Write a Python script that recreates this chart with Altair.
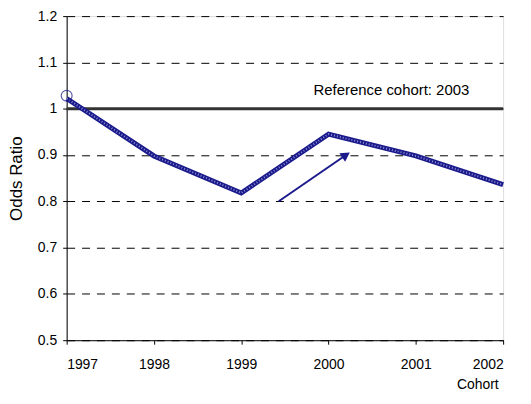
import altair as alt
import pandas as pd

years = [1997, 1998, 1999, 2000, 2001, 2002]
odds = [1.022, 0.898, 0.818, 0.945, 0.898, 0.836]

circle_year = [1997]
circle_val = [1.028]

ref_value = [1.0]
ref_label = ["Reference cohort: 2003"]
ref_label_pos = [(2000.72, 1.041)]

arrow_x = [1999.43, 2000.2]
arrow_y = [0.800, 0.900]

y_ticks = [0.5, 0.6, 0.7, 0.8, 0.9, 1.0, 1.1, 1.2]

df = pd.DataFrame({"year": years, "odds": odds})
circ = pd.DataFrame({"year": circle_year, "odds": circle_val})
ref = pd.DataFrame({"x": [years[0], years[-1]], "y": ref_value * 2})
lab = pd.DataFrame({"x": [ref_label_pos[0][0]], "y": [ref_label_pos[0][1]], "t": ref_label})
arr = pd.DataFrame({"x": arrow_x, "y": arrow_y})
head = pd.DataFrame({"x": [arrow_x[1]], "y": [arrow_y[1]]})

xs = alt.Scale(domain=[1997, 2002], nice=False, zero=False)
ys = alt.Scale(domain=[0.5, 1.2], nice=False, zero=False)

FONT = "Liberation Sans"

xaxis = alt.Axis(values=years, format="d", grid=False, title="Cohort",
                 titleAnchor="end", titleAlign="right", titleBaseline="middle",
                 titleX=434, titleY=45,
                 titleFontWeight="normal", titleFontSize=14, labelFontSize=14,
                 labelPadding=13, tickSize=4, domainColor="black", tickColor="black",
                 labelColor="black", titleColor="black", labelFont=FONT,
                 titleFont=FONT)
yaxis = alt.Axis(values=y_ticks, format="~g", grid=True, gridDash=[8, 7],
                 gridColor="black", gridWidth=1, title="Odds Ratio",
                 titleFontWeight="normal", titleFontSize=17, titlePadding=12,
                 labelFontSize=14, tickSize=4, domainColor="black", tickColor="black",
                 labelColor="black", titleColor="black", labelFont=FONT,
                 titleFont=FONT, labelPadding=6)

base_axes = alt.Chart(df).mark_line(opacity=0).encode(
    x=alt.X("year:Q", scale=xs, axis=xaxis),
    y=alt.Y("odds:Q", scale=ys, axis=yaxis),
)

refline = alt.Chart(ref).mark_line(color="#333333", strokeWidth=3).encode(
    x=alt.X("x:Q", scale=xs), y=alt.Y("y:Q", scale=ys))

line = alt.Chart(df).mark_line(color="#1a1a8c", strokeWidth=5).encode(
    x=alt.X("year:Q", scale=xs), y=alt.Y("odds:Q", scale=ys))
line_tex = alt.Chart(df).mark_line(color="#8f8fd0", strokeWidth=2, strokeDash=[1, 2]).encode(
    x=alt.X("year:Q", scale=xs), y=alt.Y("odds:Q", scale=ys))

circle = alt.Chart(circ).mark_point(shape="circle", filled=False, color="#1a1a8c",
                                    size=120, strokeWidth=1.2).encode(
    x=alt.X("year:Q", scale=xs), y=alt.Y("odds:Q", scale=ys))

text = alt.Chart(lab).mark_text(fontSize=15, font=FONT, color="black").encode(
    x=alt.X("x:Q", scale=xs), y=alt.Y("y:Q", scale=ys), text="t:N")

arrow = alt.Chart(arr).mark_line(color="#1a1a8c", strokeWidth=2).encode(
    x=alt.X("x:Q", scale=xs), y=alt.Y("y:Q", scale=ys))
arrowhead = alt.Chart(head).mark_point(shape="triangle-up", filled=True, color="#1a1a8c",
                                       size=110, angle=56, opacity=1).encode(
    x=alt.X("x:Q", scale=xs), y=alt.Y("y:Q", scale=ys))

chart = alt.layer(base_axes, refline, line, line_tex, circle, text, arrow, arrowhead).properties(
    width=439, height=326,
    autosize=alt.AutoSizeParams(type="none"),
    padding={"left": 59, "top": 7, "right": 20, "bottom": 60},
).configure_view(stroke=None).configure(background="white")

chart.save("out.html", embed_options={"renderer": "svg", "actions": False})
